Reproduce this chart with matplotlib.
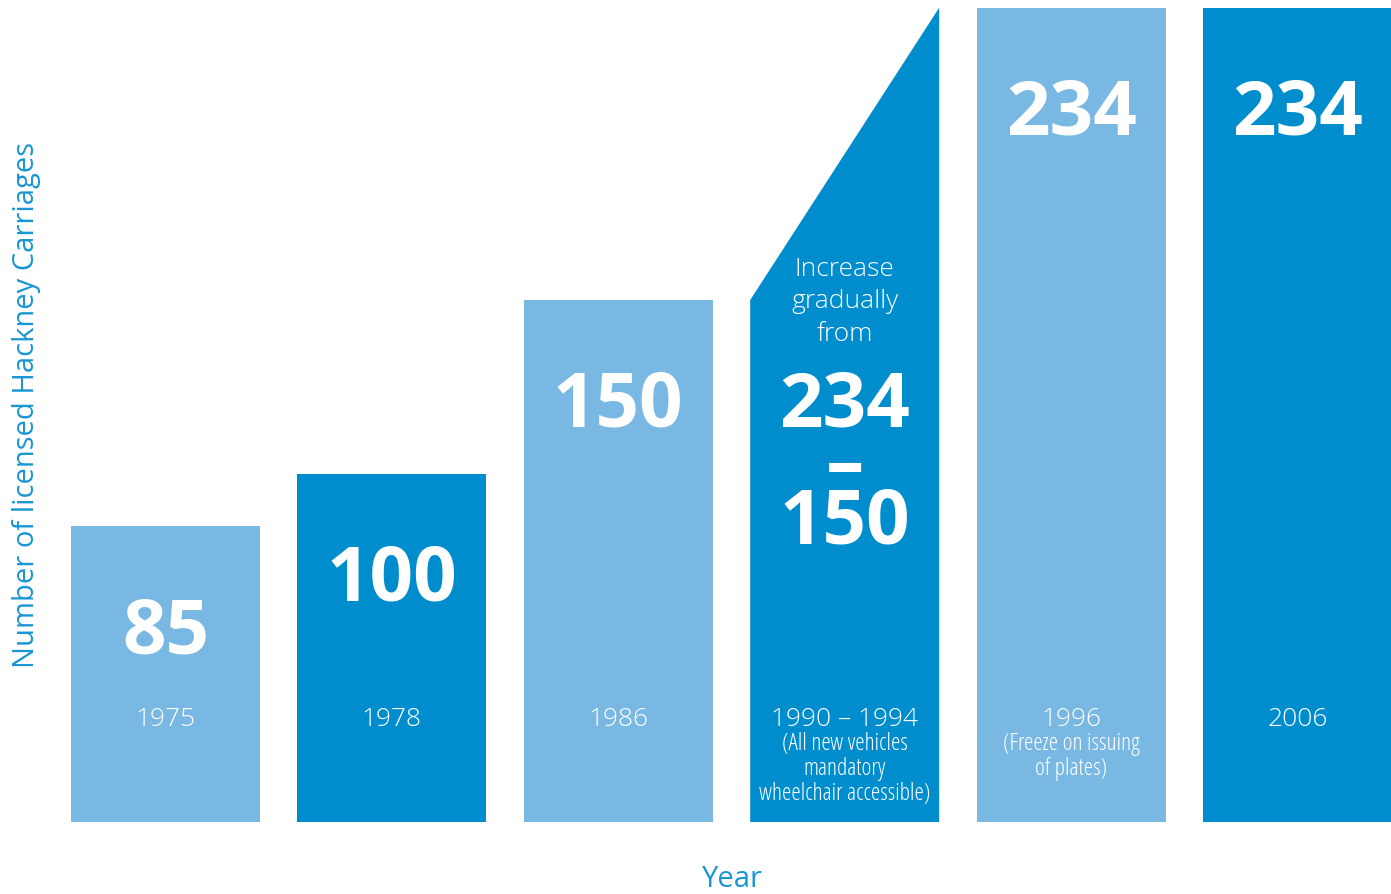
import matplotlib
matplotlib.use("Agg")
import matplotlib.pyplot as plt
import numpy as np

years = ["1975", "1978", "1986", "1990 – 1994", "1996", "2006"]
notes = ["", "", "", "(All new vehicles\nmandatory\nwheelchair accessible)", "(Freeze on issuing\nof plates)", ""]
counts = [85, 100, 150, 150, 234, 234]
counts_end = [85, 100, 150, 234, 234, 234]
labels = ["85", "100", "150", "234", "234", "234"]

light = "#79B8E2"
dark = "#008DCE"
colors = [light, dark, light, dark, light, dark]

plt.rcParams['font.family'] = ['Open Sans', 'DejaVu Sans']

W, H = 1391, 895
fig = plt.figure(figsize=(W / 100, H / 100), dpi=100)
ax = fig.add_axes([0, 0, 1, 1])
ax.axis("off")

scale = 3.48   # px per unit
base = 823     # pixel row of zero
step = 226.4   # px between bar centres
x0 = 165.5
ax.set_xlim(-x0 / step, (W - x0) / step)
ax.set_ylim(-(H - base) / scale, base / scale)

def py(p):
    return (base - p) / scale

width = 189 / step
x = np.arange(len(years))
for i in range(len(years)):
    l, r = x[i] - width / 2, x[i] + width / 2
    ax.fill([l, r, r, l], [0, 0, counts_end[i], counts[i]], color=colors[i], lw=0)

big = dict(color="white", fontsize=55, fontweight="bold", ha="center", va="center")
small = dict(color="white", fontsize=17, fontweight="light", fontstretch="condensed",
             ha="center", va="top", linespacing=1.05)
for i in range(len(years)):
    top = counts[i]
    ax.text(x[i], top - 30.6, labels[i], **big)
    ax.text(x[i], py(719), years[i], color="white", fontsize=19, fontweight="light",
            ha="center", va="center")
    if notes[i]:
        ax.text(x[i], py(732), notes[i], **small)

# the gradual increase bar
ax.text(x[3], py(302), "Increase\ngradually\nfrom", color="white", fontsize=19,
        fontweight="light", ha="center", va="center", linespacing=1.38)
ax.text(x[3], py(469), "–", **big)
ax.text(x[3], py(524), labels[2], **big)

fig.text(27 / W, 1 - 405 / H, "Number of licensed Hackney Carriages", rotation=90,
         color="#1A96D4", fontsize=21, ha="center", va="center")
fig.text(732 / W, 1 - 880 / H, "Year", color="#1A96D4", fontsize=21,
         ha="center", va="center")

fig.savefig("out.png", dpi=100)
